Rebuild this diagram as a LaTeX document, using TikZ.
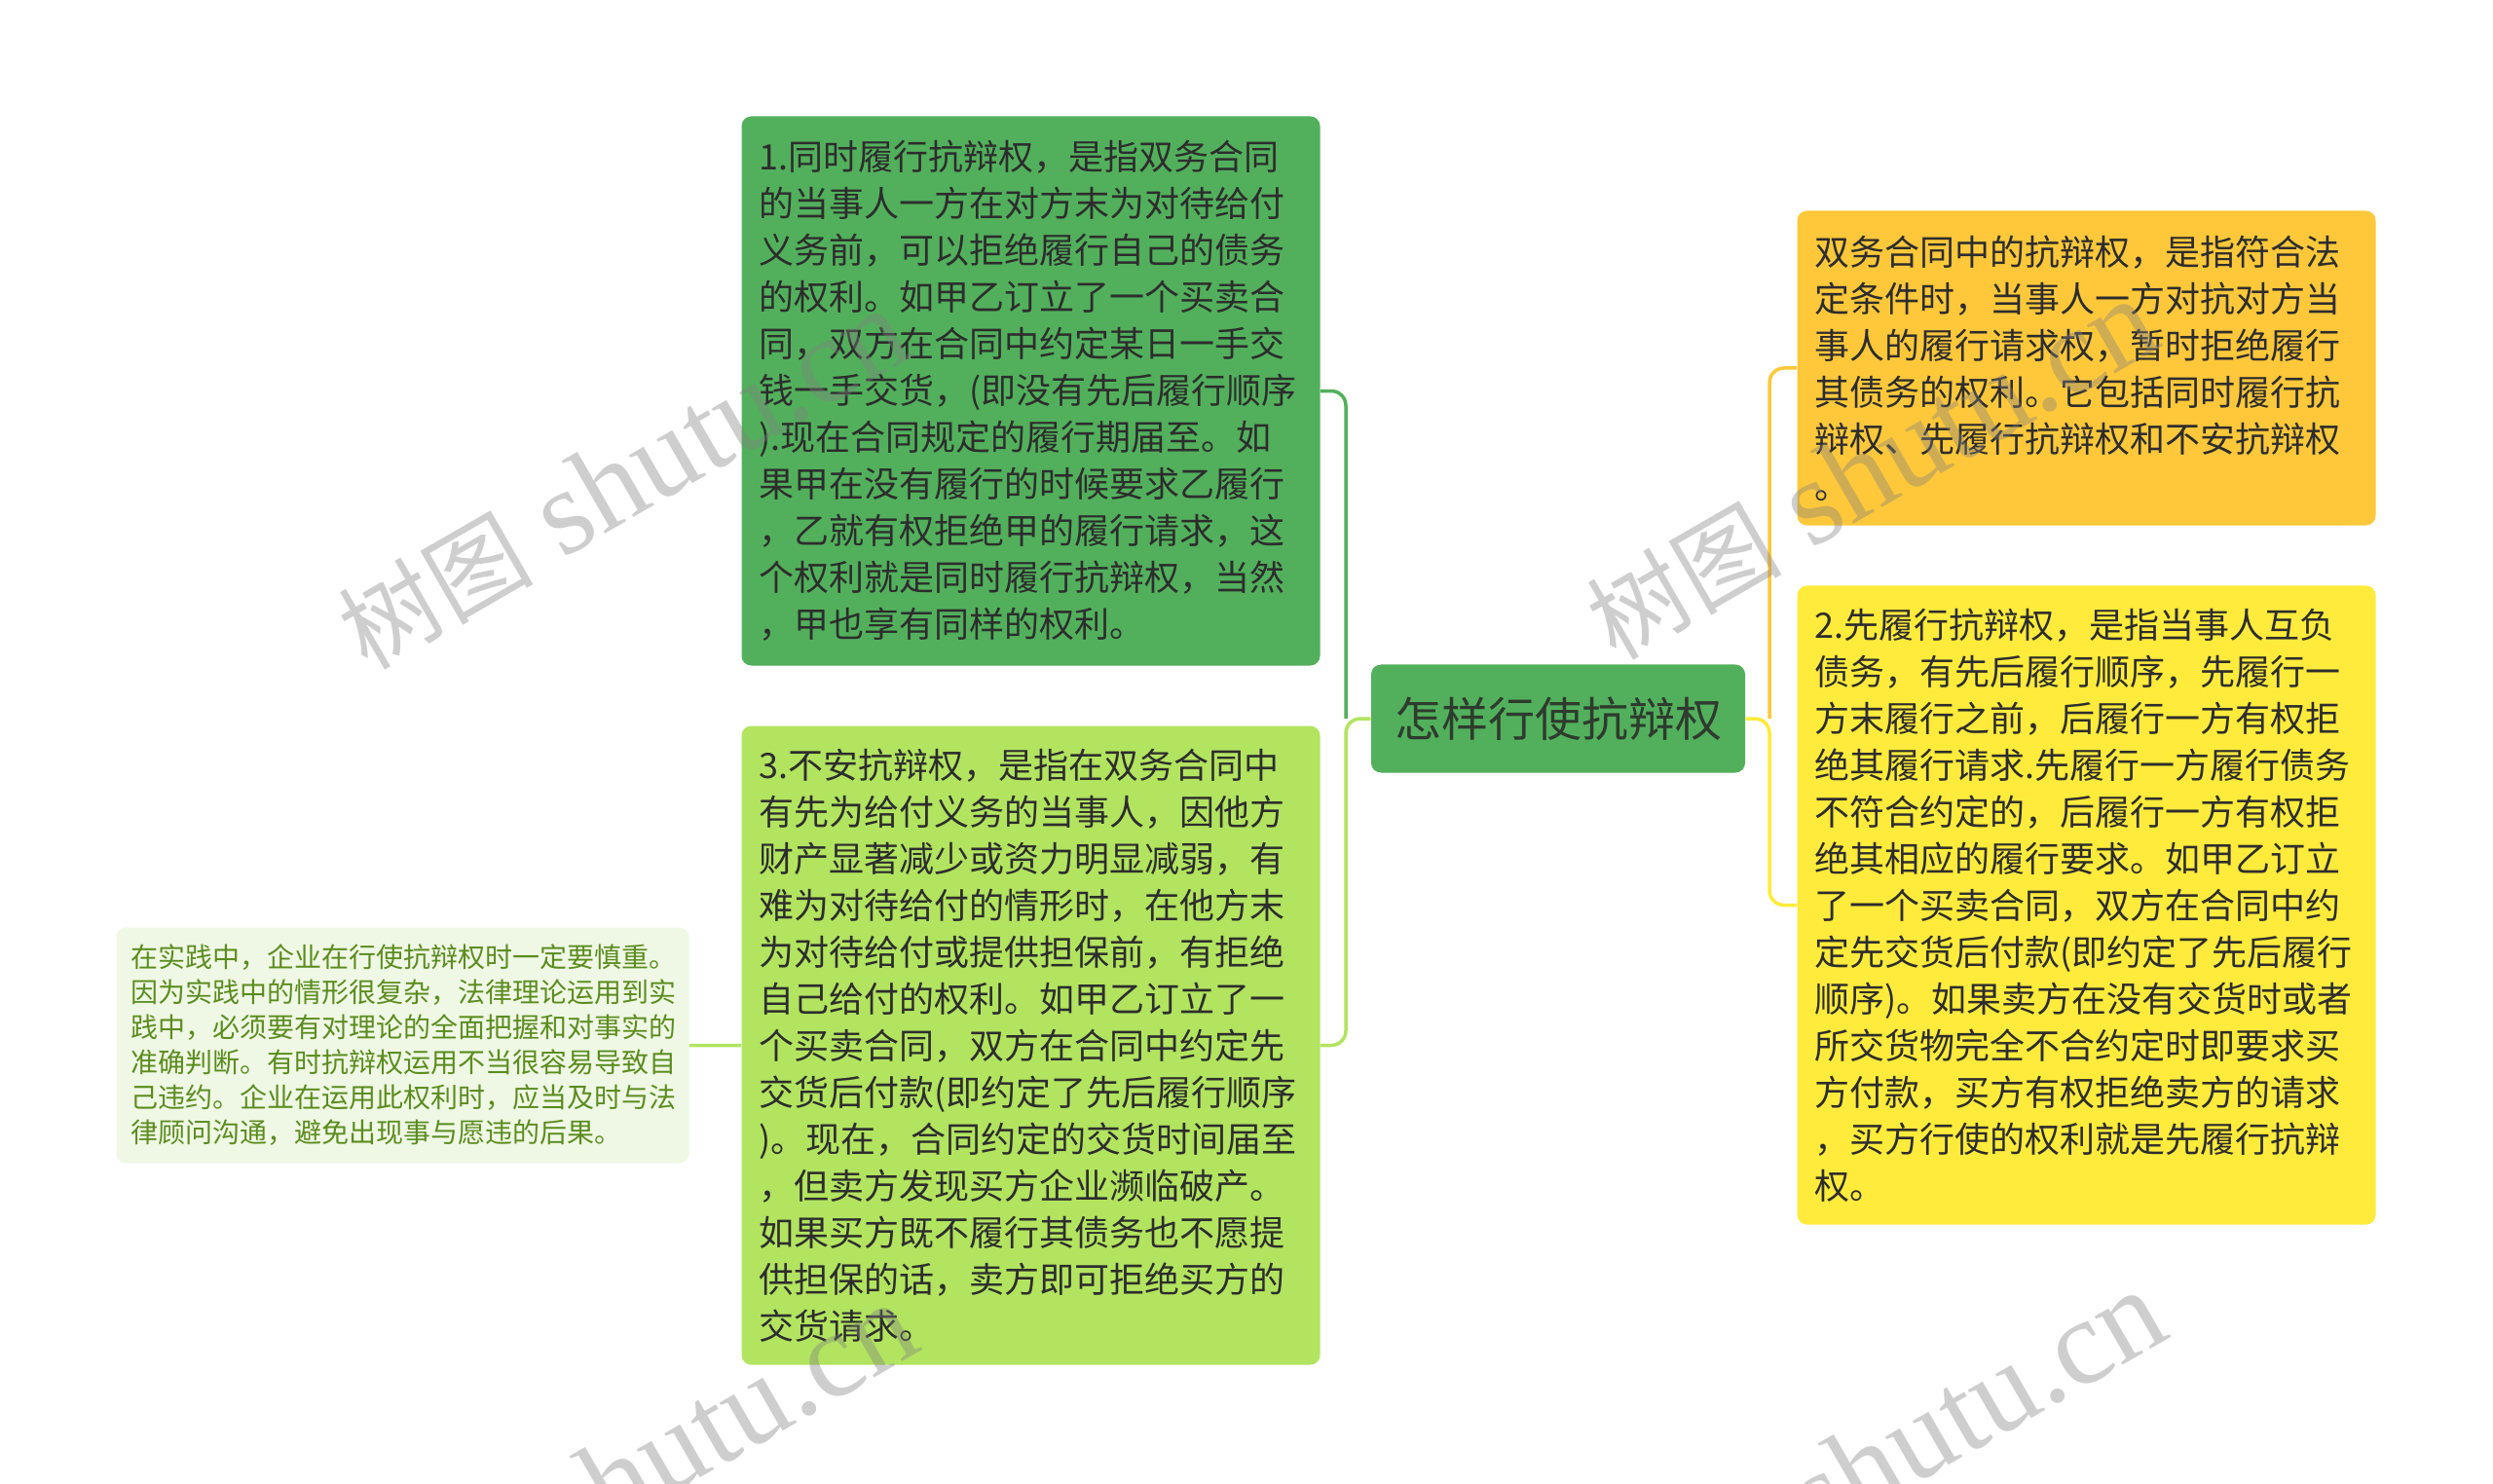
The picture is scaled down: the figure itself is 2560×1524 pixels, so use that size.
\documentclass[tikz,border=0pt]{standalone}
\usepackage{fontspec}
\setmainfont{Noto Sans CJK SC}
\newfontfamily\cjk{Noto Sans CJK SC}
\newfontfamily\wmserif{Liberation Serif}
\definecolor{cgreen}{HTML}{52B05C}
\definecolor{clight}{HTML}{B2E45F}
\definecolor{corange}{HTML}{FEC83A}
\definecolor{cyellow}{HTML}{FFEB3B}
\definecolor{cpale}{HTML}{EFF8E4}
\definecolor{ctext}{HTML}{2D2D2D}
\definecolor{cnote}{HTML}{5B8C1F}
\definecolor{croottext}{HTML}{2E3B2E}
\tikzset{
  leafbox/.style={anchor=north west, rounded corners=4pt, align=left,
    inner xsep=7.2pt, inner ysep=0pt, text=ctext,
    font=\cjk\fontsize{14.4}{19.2}\selectfont},
  rootbox/.style={rounded corners=4pt, fill=cgreen, text=croottext,
    font=\cjk\fontsize{19.2}{24}\selectfont, inner sep=0pt},
  notebox/.style={anchor=north west, rounded corners=4pt, align=left, fill=cpale,
    inner xsep=6pt, inner ysep=0pt, text=cnote,
    font=\cjk\fontsize{11.2}{14.4}\selectfont},
  link/.style={line width=1.4pt, rounded corners=6pt},
  wmark/.style={anchor=base east, rotate=30, text=gray, opacity=0.38, inner sep=0pt},
}
\newcommand{\wmtext}{{\cjk\fontsize{40}{44}\selectfont 树图}{\wmserif\fontsize{50}{52}\selectfont\ shutu.cn}}
\begin{document}
\begin{tikzpicture}[x=0.4pt,y=-0.4pt]
\useasboundingbox (0,0) rectangle (2560,1524);
\fill[white] (0,0) rectangle (2560,1524);
\clip (0,0) rectangle (2560,1524);

% root
\node[rootbox, minimum width=153.6pt, minimum height=44.4pt] (root) at (1600,738) {怎样行使抗辩权};

% left branches
\node[leafbox, fill=cgreen, text width=223.2pt, minimum height=225.6pt] (b1) at (761,119) {%
1.同时履行抗辩权，是指双务合同\\
的当事人一方在对方末为对待给付\\
义务前，可以拒绝履行自己的债务\\
的权利。如甲乙订立了一个买卖合\\
同，双方在合同中约定某日一手交\\
钱一手交货，(即没有先后履行顺序\\
).现在合同规定的履行期届至。如\\
果甲在没有履行的时候要求乙履行\\
，乙就有权拒绝甲的履行请求，这\\
个权利就是同时履行抗辩权，当然\\
，甲也享有同样的权利。};

\node[leafbox, fill=clight, text width=223.2pt, minimum height=262.4pt] (b3) at (761,745) {%
3.不安抗辩权，是指在双务合同中\\
有先为给付义务的当事人，因他方\\
财产显著减少或资力明显减弱，有\\
难为对待给付的情形时，在他方末\\
为对待给付或提供担保前，有拒绝\\
自己给付的权利。如甲乙订立了一\\
个买卖合同，双方在合同中约定先\\
交货后付款(即约定了先后履行顺序\\
)。现在，合同约定的交货时间届至\\
，但卖方发现买方企业濒临破产。\\
如果买方既不履行其债务也不愿提\\
供担保的话，卖方即可拒绝买方的\\
交货请求。};

\node[notebox, text width=223.2pt, minimum height=96.8pt] (note) at (119,952) {%
在实践中，企业在行使抗辩权时一定要慎重。\\
因为实践中的情形很复杂，法律理论运用到实\\
践中，必须要有对理论的全面把握和对事实的\\
准确判断。有时抗辩权运用不当很容易导致自\\
己违约。企业在运用此权利时，应当及时与法\\
律顾问沟通，避免出现事与愿违的后果。};

% right branches
\node[leafbox, fill=corange, text width=223.2pt, minimum height=129.2pt] (b0) at (1845,216) {%
双务合同中的抗辩权，是指符合法\\
定条件时，当事人一方对抗对方当\\
事人的履行请求权，暂时拒绝履行\\
其债务的权利。它包括同时履行抗\\
辩权、先履行抗辩权和不安抗辩权\\
。};

\node[leafbox, fill=cyellow, text width=223.2pt, minimum height=262.4pt] (b2) at (1845,601) {%
2.先履行抗辩权，是指当事人互负\\
债务，有先后履行顺序，先履行一\\
方末履行之前，后履行一方有权拒\\
绝其履行请求.先履行一方履行债务\\
不符合约定的，后履行一方有权拒\\
绝其相应的履行要求。如甲乙订立\\
了一个买卖合同，双方在合同中约\\
定先交货后付款(即约定了先后履行\\
顺序)。如果卖方在没有交货时或者\\
所交货物完全不合约定时即要求买\\
方付款，买方有权拒绝卖方的请求\\
，买方行使的权利就是先履行抗辩\\
权。};

% junctions
\coordinate (lj) at (1382,738);
\coordinate (rj) at (1817,738);

% connectors
\draw[link, cgreen] (b1.east) -| (lj);
\draw[link, clight] (b3.east) -| (lj) -- (root.west);
\draw[link, corange] (b0.west) -| (rj);
\draw[link, cyellow] (b2.west) -| (rj) -- (root.east);
\draw[link, clight] (b3.west) -- (note.east);

% watermarks
\node[wmark] (wm1) at (942,364) {\wmtext};
\node[wmark] (wm2) at (2224,354) {\wmtext};
\node[wmark] (wm3) at (950,1385) {\wmtext};
\node[wmark] (wm4) at (2232,1372) {\wmtext};
\end{tikzpicture}
\end{document}
